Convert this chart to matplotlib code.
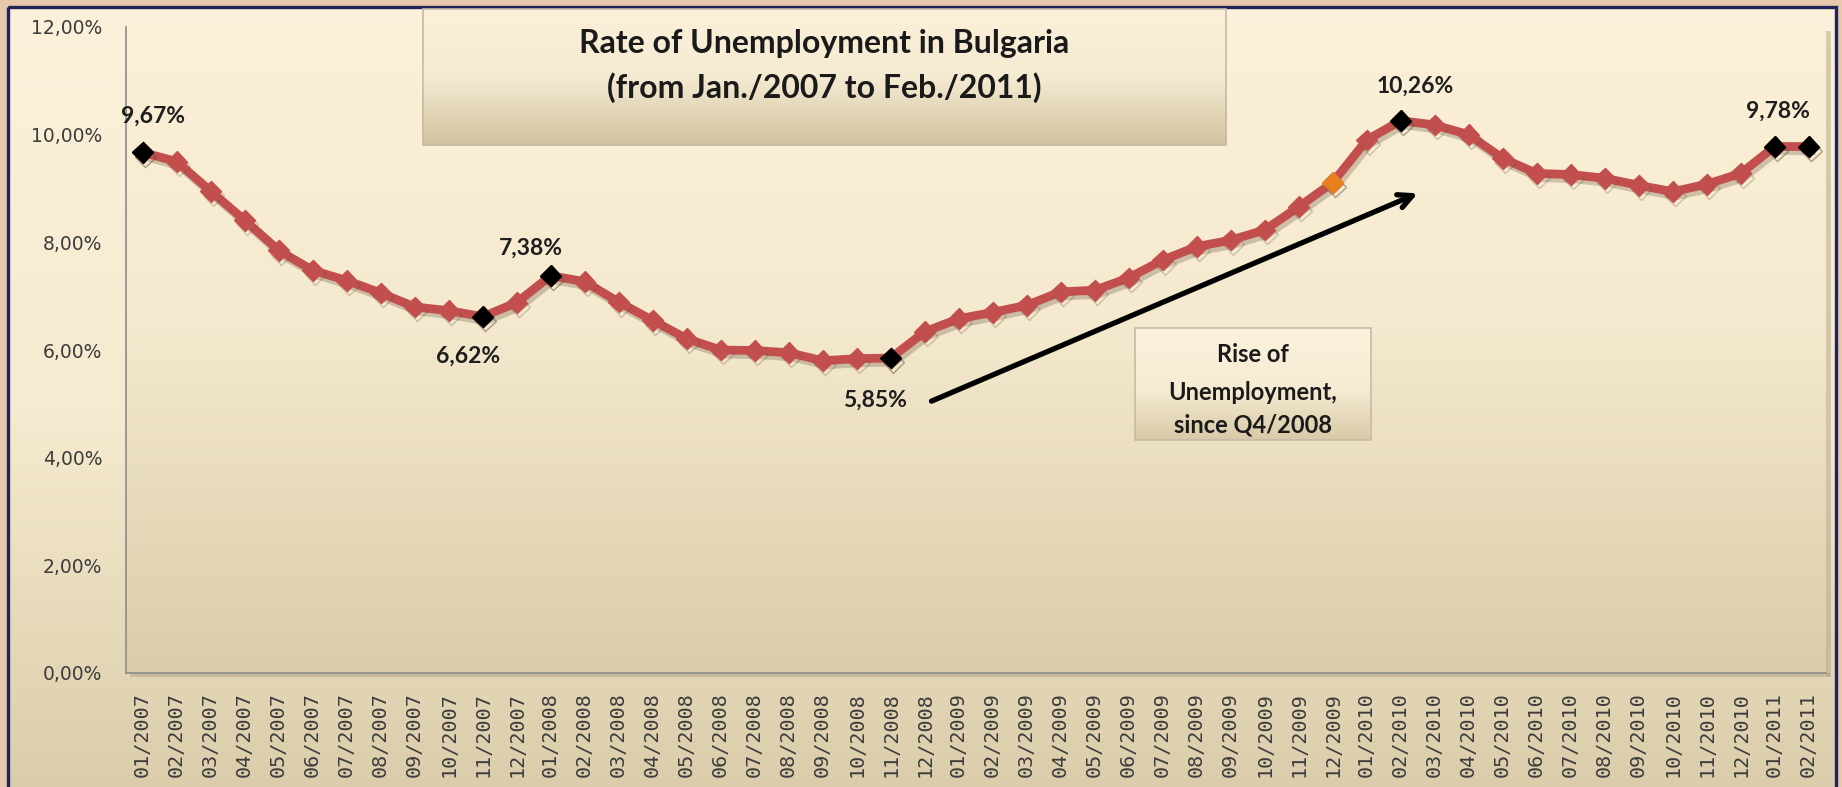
import numpy as np
import matplotlib.pyplot as plt
import matplotlib.colors as mcolors
import matplotlib.patheffects as pe
from matplotlib.patches import Rectangle
from matplotlib.ticker import FuncFormatter

# monthly unemployment rate, %, Jan 2007 .. Feb 2011
months = [f"{m:02d}/{y}" for y in range(2007, 2012) for m in range(1, 13)][:50]
rate = [9.67, 9.50, 8.95, 8.41, 7.85, 7.48, 7.29, 7.06, 6.80, 6.73, 6.62, 6.88,
        7.38, 7.27, 6.89, 6.55, 6.21, 6.00, 5.99, 5.95, 5.80, 5.84, 5.85, 6.34,
        6.58, 6.70, 6.83, 7.08, 7.11, 7.34, 7.67, 7.92, 8.04, 8.23, 8.66, 9.11,
        9.90, 10.26, 10.18, 10.00, 9.56, 9.28, 9.26, 9.19, 9.06, 8.94, 9.08, 9.28,
        9.78, 9.78]
black_pts = [0, 10, 12, 22, 37, 48, 49]
orange_pt = 35
labelled = [0, 10, 12, 22, 37, 48]

title = ["Rate of Unemployment in Bulgaria", "(from Jan./2007 to Feb./2011)"]
note = ["Rise of", "Unemployment,", "since Q4/2008"]

# label offsets in pixels (dx right, dy down)
label_off = {0: (10, -36), 10: (-15, 40), 12: (-20, -28),
             22: (-16, 42), 37: (14, -34), 48: (3, -35)}

W, H = 1842, 787
fig = plt.figure(figsize=(W / 100, H / 100), dpi=100)
fig.patch.set_facecolor('#E8C8AC')


def vgrad(ax, x0, x1, y0, y1, stops, z):
    # vertical colour ramp between y0 (top) and y1 (bottom)
    pos = [s[0] for s in stops]
    cols = np.array([mcolors.to_rgb(s[1]) for s in stops])
    t = np.linspace(0, 1, 256)
    img = np.stack([np.interp(t, pos, cols[:, k]) for k in range(3)], axis=-1)
    ax.imshow(img[:, None, :], extent=[x0, x1, y1, y0], aspect='auto',
              interpolation='bilinear', zorder=z)


def pixel_axes(z):
    a = fig.add_axes([0, 0, 1, 1], zorder=z)
    a.patch.set_alpha(0)
    a.axis('off')
    return a


# chart background, plot area, frame
bg = pixel_axes(0)
vgrad(bg, 8, 1836, 7, 900, [(0, '#FCF1DA'), (0.45, '#F6EAD0'), (1, '#D3C5A0')], 1)
bg.add_patch(Rectangle((8, 7), 1828, 820, fill=False, ec='#1F2456', lw=2.4, zorder=5))
px0, px1, py0, py1 = 125.7, 1825.7, 27, 673
vgrad(bg, px0, px1, py0, py1, [(0, '#FCF0D8'), (0.45, '#F5E9CF'), (1, '#DACDAA')], 2)
bg.add_patch(Rectangle((px1, py0 + 4), 5, py1 - py0, color='#A99C7C', alpha=0.45, lw=0, zorder=2))
bg.add_patch(Rectangle((px0 + 4, py1), px1 - px0, 4, color='#A99C7C', alpha=0.45, lw=0, zorder=2))
bg.set_xlim(0, W)
bg.set_ylim(H, 0)

# line chart
ax = fig.add_axes([px0 / W, 1 - py1 / H, (px1 - px0) / W, (py1 - py0) / H], zorder=2)
ax.patch.set_alpha(0)
x = np.arange(len(rate))
y = np.array(rate)
shadow = [pe.SimpleLineShadow(offset=(2, -3), shadow_color='#5E4E38', alpha=0.28), pe.Normal()]
ax.plot(x, y, color='#C24F4D', lw=6.3, marker='D', ms=10.5, mec='#C24F4D',
        solid_joinstyle='round', path_effects=shadow, zorder=3)
ax.plot(x[black_pts], y[black_pts], 'D', color='black', ms=10.5, path_effects=shadow, zorder=4)
ax.plot(x[orange_pt], y[orange_pt], 'D', color='#E8801E', ms=10.5, path_effects=shadow, zorder=4)

for i in labelled:
    dx, dy = label_off[i]
    ax.annotate(f"{rate[i]:.2f}%".replace('.', ','), (x[i], y[i]),
                xytext=(dx * 0.72, -dy * 0.72), textcoords='offset points',
                ha='center', va='center', fontsize=16.5, fontweight='bold',
                family='Lato', color='#1E1E1E', zorder=5)

ax.annotate('', xy=(37.5, 8.91), xytext=(23.2, 5.05),
            arrowprops=dict(arrowstyle='->,head_length=1.0,head_width=0.5',
                            color='black', lw=3.8, shrinkA=0, shrinkB=0), zorder=5)

ax.set_xlim(-0.5, len(rate) - 0.5)
ax.set_ylim(0, 12)
ax.set_yticks(np.arange(0, 13, 2))
ax.yaxis.set_major_formatter(FuncFormatter(lambda v, _: f"{v:.2f}%".replace('.', ',')))
ax.set_xticks(x)
ax.set_xticklabels(months, rotation=90, family='DejaVu Sans Mono', fontsize=14.5)
ax.tick_params(axis='y', length=0, pad=17, labelsize=13.5, labelcolor='#3C3C3C')
ax.tick_params(axis='x', length=0, pad=14, labelcolor='#3C3C3C')
for s in ['top', 'right']:
    ax.spines[s].set_visible(False)
for s in ['left', 'bottom']:
    ax.spines[s].set_color('#8C8C8C')
    ax.spines[s].set_linewidth(1.2)

# title box and note box
ov = pixel_axes(4)
vgrad(ov, 423, 1226, 9, 145, [(0, '#FCF0D9'), (0.5, '#F5EAD2'), (1, '#D2C4A0')], 1)
ov.add_patch(Rectangle((423, 9), 803, 136, fill=False, ec='#C4BBA8', lw=1.2, zorder=2))
for txt, ty in zip(title, [43, 88]):
    ov.text(824.5, ty, txt, ha='center', va='center', fontsize=23,
            fontweight='bold', family='Lato', color='#1A1A1A', zorder=3)

vgrad(ov, 1135, 1371, 328, 440, [(0, '#FCF1DB'), (0.55, '#F6EBD3'), (1, '#D8CAA7')], 1)
ov.add_patch(Rectangle((1135, 328), 236, 112, fill=False, ec='#C4BBA8', lw=1.2, zorder=2))
for txt, ty in zip(note, [355, 393, 425]):
    ov.text(1253, ty, txt, ha='center', va='center', fontsize=17,
            fontweight='bold', family='Lato', color='#1A1A1A', zorder=3)
ov.set_xlim(0, W)
ov.set_ylim(H, 0)

fig.savefig('out.png', dpi=100, facecolor=fig.get_facecolor())
